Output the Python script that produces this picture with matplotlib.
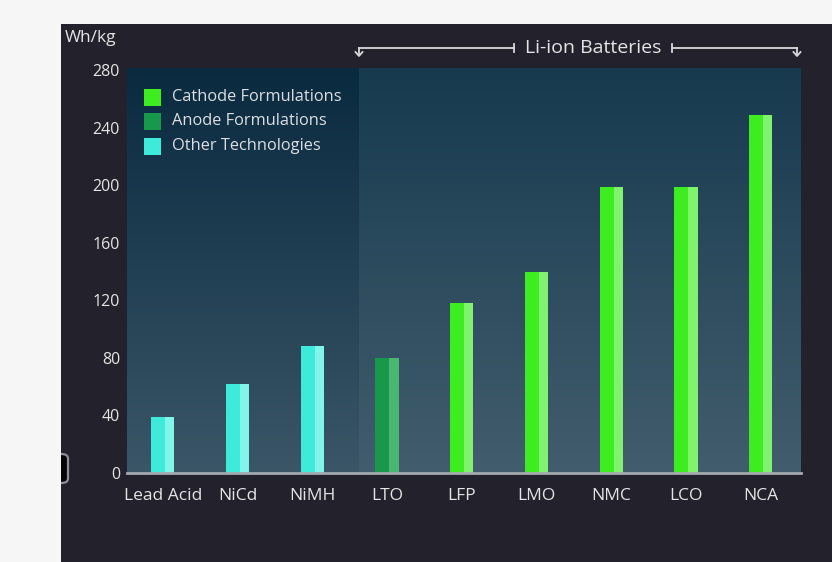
import matplotlib.pyplot as plt
import numpy as np
from matplotlib.patches import Rectangle, FancyBboxPatch
from matplotlib.colors import LinearSegmentedColormap

# Specific energy by battery chemistry
chemistries = ['Lead Acid', 'NiCd', 'NiMH', 'LTO', 'LFP', 'LMO', 'NMC', 'LCO', 'NCA']
energy_whkg = [39, 62, 88, 80, 118, 140, 199, 199, 249]
groups = ['other', 'other', 'other', 'anode', 'cathode', 'cathode', 'cathode', 'cathode', 'cathode']
yticks = [0, 40, 80, 120, 160, 200, 240, 280]

legend_labels = {'cathode': 'Cathode Formulations',
                 'anode': 'Anode Formulations',
                 'other': 'Other Technologies'}
main_color = {'cathode': '#3ded1f', 'anode': '#18984a', 'other': '#3eeada'}
light_color = {'cathode': '#8ef47c', 'anode': '#52bd78', 'other': '#8ff7ee'}

W, H = 832, 562
fig = plt.figure(figsize=(W / 100, H / 100), dpi=100, facecolor='#f6f6f6')

panel = Rectangle((61 / W, 0), 1 - 61 / W, 1 - 24 / H, transform=fig.transFigure,
                  facecolor='#23222c', edgecolor='none', zorder=-2)
fig.patches.append(panel)

# little rounded widget at the panel's left edge
knob = FancyBboxPatch((50 / W, 1 - 483 / H), 18 / W, 29 / H,
                      boxstyle='round,pad=0,rounding_size=0.008',
                      transform=fig.transFigure, facecolor='#050507',
                      edgecolor='#8d8f96', linewidth=1.6, zorder=-1)
fig.patches.append(knob)
knob.set_clip_path(panel)

ax = fig.add_axes([127 / W, 1 - 473 / H, (801 - 127) / W, (473 - 68) / H])
ax.set_zorder(1)
ax.set_facecolor('none')
xmin, xmax = -0.48, 8.54
ymax = 281.5
split = 2.63

grad = np.linspace(0, 1, 256).reshape(-1, 1)
cmap_l = LinearSegmentedColormap.from_list('l', ['#0a2a40', '#3a5667'])
cmap_r = LinearSegmentedColormap.from_list('r', ['#173a4f', '#425d6d'])
ax.imshow(grad, cmap=cmap_l, extent=(xmin, split, 0, ymax), aspect='auto', zorder=0)
ax.imshow(grad, cmap=cmap_r, extent=(split, xmax, 0, ymax), aspect='auto', zorder=0)

x = np.arange(len(chemistries))
bw = 0.31
for xi, val, g in zip(x, energy_whkg, groups):
    ax.bar(xi, val, width=bw, color=main_color[g], zorder=2)
    # lighter right face gives the bars a bit of depth
    ax.bar(xi + bw * 0.3, val, width=bw * 0.4, color=light_color[g], alpha=0.85, zorder=3)

ax.set_xlim(xmin, xmax)
ax.set_ylim(0, ymax)

for s in ['top', 'right', 'left']:
    ax.spines[s].set_visible(False)
ax.spines['bottom'].set_color('#a4a9b0')
ax.spines['bottom'].set_linewidth(2)
ax.spines['bottom'].set_zorder(4)

font = 'Open Sans'
ax.set_yticks(yticks)
ax.set_yticklabels([str(t) for t in yticks], fontsize=11.5, color='#e4e4e6', family=font)
ax.set_xticks(x)
ax.set_xticklabels(chemistries, fontsize=12.5, color='#e4e4e6', family=font)
ax.tick_params(axis='both', length=0)
ax.tick_params(axis='y', pad=5)
ax.tick_params(axis='x', pad=11)

fig.text(65 / W, 1 - 38 / H, 'Wh/kg', fontsize=12.5, color='#e4e4e6', family=font,
         va='center', ha='left')

# legend drawn by hand
for i, g in enumerate(['cathode', 'anode', 'other']):
    yc = 97 + i * 24.5
    fig.patches.append(Rectangle((144 / W, 1 - (yc + 8.5) / H), 17 / W, 17 / H,
                                 transform=fig.transFigure, facecolor=main_color[g],
                                 edgecolor='none', zorder=5))
    fig.text(172 / W, 1 - yc / H, legend_labels[g], fontsize=11.8, color='#dcdee2',
             family=font, va='center', ha='left', zorder=5)

# bracket over the Li-ion group
yb = 1 - 48 / H
lc = '#d8d9dc'
x0, x1 = 359 / W, 797 / W
t0, t1 = 514 / W, 672 / W
fig.lines.append(plt.Line2D([x0, t0], [yb, yb], transform=fig.transFigure, color=lc, lw=1.3))
fig.lines.append(plt.Line2D([t1, x1], [yb, yb], transform=fig.transFigure, color=lc, lw=1.3))
for xe in (x0, x1):
    fig.lines.append(plt.Line2D([xe, xe], [yb, yb - 7 / H], transform=fig.transFigure,
                                color=lc, lw=1.3))
    fig.lines.append(plt.Line2D([xe - 3.5 / W, xe, xe + 3.5 / W],
                                [yb - 4 / H, yb - 8 / H, yb - 4 / H],
                                transform=fig.transFigure, color=lc, lw=1.3))
for xe in (t0, t1):
    fig.lines.append(plt.Line2D([xe, xe], [yb - 4 / H, yb + 4 / H], transform=fig.transFigure,
                                color=lc, lw=1.3))
fig.text((t0 + t1) / 2, yb, 'Li-ion Batteries', fontsize=14, color='#e4e4e6',
         family=font, va='center', ha='center')

fig.savefig('out.png', dpi=100, facecolor=fig.get_facecolor())
